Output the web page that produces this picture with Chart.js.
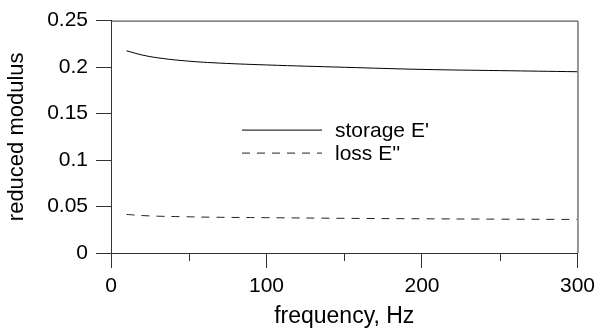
<!DOCTYPE html>
<html>
<head>
<meta charset="utf-8">
<script src="https://cdn.jsdelivr.net/npm/chart.js@4"></script>
<style>
  html, body { margin: 0; padding: 0; background: #fff; }
  #wrap { width: 601px; height: 331px; }
</style>
</head>
<body>
<div id="wrap"><canvas id="modChart"></canvas></div>
<script>
// frequency sweep, Hz
const freq = [10, 20, 30, 45, 65, 100, 150, 200, 250, 300];
// storage modulus E'
const storage = [0.2175, 0.2130, 0.2100, 0.2071, 0.2047, 0.2023, 0.1998, 0.1975, 0.1962, 0.1950];
// loss modulus E''
const loss = [0.0415, 0.0403, 0.0396, 0.0391, 0.0385, 0.0380, 0.0373, 0.0368, 0.0364, 0.0361];
const seriesNames = ["storage E'", "loss E''"];
const minorTicks = [50, 150, 250];

const FONT = "'Liberation Sans', Arial, sans-serif";
const AXIS = "#333";

function toPoints(xs, ys) {
  return xs.map((x, i) => ({ x: x, y: ys[i] }));
}

// box on top/right, minor x ticks and the in-plot legend
const extras = {
  id: "extras",
  afterDraw(chart) {
    const { ctx, chartArea: a, scales } = chart;
    ctx.save();
    ctx.strokeStyle = AXIS;
    ctx.lineWidth = 1;
    ctx.beginPath();
    ctx.moveTo(a.left, a.top + 0.5);
    ctx.lineTo(a.right + 0.5, a.top + 0.5);
    ctx.lineTo(a.right + 0.5, a.bottom);
    ctx.stroke();

    ctx.beginPath();
    minorTicks.forEach(v => {
      const px = Math.round(scales.x.getPixelForValue(v)) + 0.5;
      ctx.moveTo(px, a.bottom);
      ctx.lineTo(px, a.bottom + 8);
    });
    ctx.stroke();

    // legend
    const lx0 = a.left + 131, lx1 = a.left + 211;
    const rows = [a.top + 109.5, a.top + 132.5];
    ctx.font = "21px " + FONT;
    ctx.textBaseline = "middle";
    ctx.fillStyle = "#000";
    chart.data.datasets.forEach((ds, i) => {
      ctx.strokeStyle = ds.borderColor;
      ctx.setLineDash(ds.borderDash || []);
      ctx.beginPath();
      ctx.moveTo(lx0, rows[i]);
      ctx.lineTo(lx1, rows[i]);
      ctx.stroke();
      ctx.setLineDash([]);
      ctx.fillText(ds.label, lx1 + 13, rows[i] + 1);
    });
    ctx.restore();
  }
};

new Chart(document.getElementById("modChart"), {
  type: "line",
  data: {
    datasets: [
      {
        label: seriesNames[0],
        data: toPoints(freq, storage),
        borderColor: "#000",
        borderWidth: 1,
        pointRadius: 0,
        tension: 0.4,
        fill: false
      },
      {
        label: seriesNames[1],
        data: toPoints(freq, loss),
        borderColor: "#222",
        borderWidth: 1,
        borderDash: [8, 7],
        pointRadius: 0,
        tension: 0.4,
        fill: false
      }
    ]
  },
  options: {
    responsive: true,
    maintainAspectRatio: false,
    animation: false,
    layout: { padding: { top: 20, right: 22, left: 0, bottom: 0 } },
    plugins: {
      legend: { display: false },
      tooltip: { enabled: false }
    },
    scales: {
      x: {
        type: "linear",
        min: 0,
        max: 300,
        afterFit: s => { s.height = 78; },
        border: { color: AXIS, width: 1 },
        grid: { drawOnChartArea: false, drawTicks: true, tickLength: 15, color: AXIS },
        ticks: {
          stepSize: 100,
          color: "#000",
          padding: 6,
          maxRotation: 0,
          font: { family: FONT, size: 21 }
        },
        title: {
          display: true,
          text: "frequency, Hz",
          color: "#000",
          padding: { top: 0, bottom: 1 },
          font: { family: FONT, size: 23 }
        }
      },
      y: {
        min: 0,
        max: 0.25,
        afterFit: s => { s.width = 111; },
        border: { color: AXIS, width: 1 },
        grid: { drawOnChartArea: false, drawTicks: true, tickLength: 15, color: AXIS },
        ticks: {
          stepSize: 0.05,
          color: "#000",
          padding: 8,
          font: { family: FONT, size: 21 },
          callback: v => String(Math.round(v * 100) / 100)
        },
        title: {
          display: true,
          text: "reduced modulus",
          color: "#000",
          padding: { top: 4, bottom: 0 },
          font: { family: FONT, size: 22 }
        }
      }
    }
  },
  plugins: [extras]
});
</script>
</body>
</html>
